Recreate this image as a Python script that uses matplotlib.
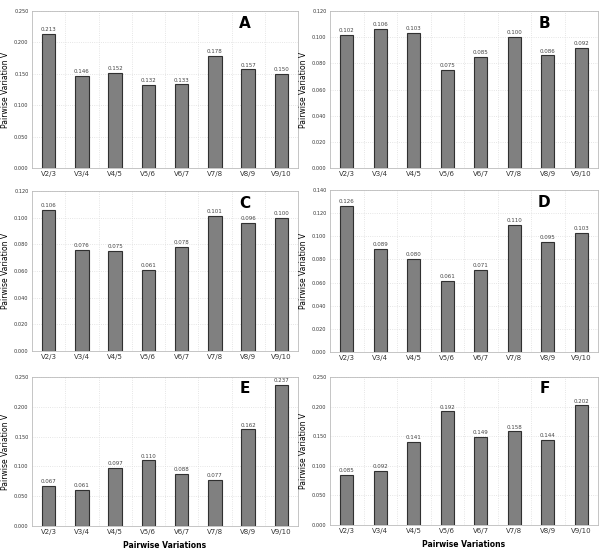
import matplotlib
matplotlib.use("Agg")
import matplotlib.pyplot as plt

categories = ["V2/3", "V3/4", "V4/5", "V5/6", "V6/7", "V7/8", "V8/9", "V9/10"]

values_a = [0.213, 0.146, 0.152, 0.132, 0.133, 0.178, 0.157, 0.150]
values_b = [0.102, 0.106, 0.103, 0.075, 0.085, 0.100, 0.086, 0.092]
values_c = [0.106, 0.076, 0.075, 0.061, 0.078, 0.101, 0.096, 0.100]
values_d = [0.126, 0.089, 0.080, 0.061, 0.071, 0.110, 0.095, 0.103]
values_e = [0.067, 0.061, 0.097, 0.110, 0.088, 0.077, 0.162, 0.237]
values_f = [0.085, 0.092, 0.141, 0.192, 0.149, 0.158, 0.144, 0.202]

panel_letters = ["A", "B", "C", "D", "E", "F"]
y_max = [0.25, 0.12, 0.12, 0.14, 0.25, 0.25]
y_step = [0.05, 0.02, 0.02, 0.02, 0.05, 0.05]

W, H = 600, 555
fig = plt.figure(figsize=(6, 5.55), dpi=100)

# axes boxes in pixels: left, right, top, bottom
boxes = [(32, 298, 11, 168), (330, 598, 11, 168),
         (32, 298, 191, 351), (330, 598, 190, 352),
         (32, 298, 377, 526), (330, 598, 377, 525)]

all_values = [values_a, values_b, values_c, values_d, values_e, values_f]

for i, vals in enumerate(all_values):
    l, r, t, b = boxes[i]
    ax = fig.add_axes([l / W, 1 - b / H, (r - l) / W, (b - t) / H])
    x = range(len(categories))
    ax.bar(x, vals, width=0.4, color="#808080", edgecolor="#303030", linewidth=0.8, zorder=3)
    for xi, v in zip(x, vals):
        ax.text(xi, v + y_max[i] * 0.012, "%.3f" % v, ha="center", va="bottom",
                fontsize=4, color="#444444")
    ax.set_xlim(-0.5, len(categories) - 0.5)
    ax.set_ylim(0, y_max[i])
    n = int(round(y_max[i] / y_step[i]))
    ticks = [k * y_step[i] for k in range(n + 1)]
    ax.set_yticks(ticks)
    ax.set_yticklabels(["%.3f" % t_ for t_ in ticks], fontsize=3.6)
    ax.set_xticks(list(x))
    ax.set_xticklabels(categories, fontsize=5)
    ax.set_xticks([k + 0.5 for k in range(len(categories) - 1)], minor=True)
    ax.grid(True, which="minor", axis="x", color="#dddddd", linestyle=":", linewidth=0.6, zorder=0)
    ax.grid(True, which="major", axis="y", color="#dddddd", linestyle=":", linewidth=0.6, zorder=0)
    ax.tick_params(axis="both", which="both", length=0, pad=2.5, colors="#333333")
    for s in ax.spines.values():
        s.set_color("#bbbbbb")
        s.set_linewidth(0.6)
    ax.set_ylabel("Pairwise Variation V", fontsize=5.5, labelpad=3)
    ax.text(0.80, 0.92, panel_letters[i], transform=ax.transAxes, fontsize=11,
            fontweight="bold", ha="center", va="center")
    if i >= 4:
        ax.set_xlabel("Pairwise Variations", fontsize=5.5, fontweight="bold", labelpad=4)

plt.savefig("out.png", dpi=100)
